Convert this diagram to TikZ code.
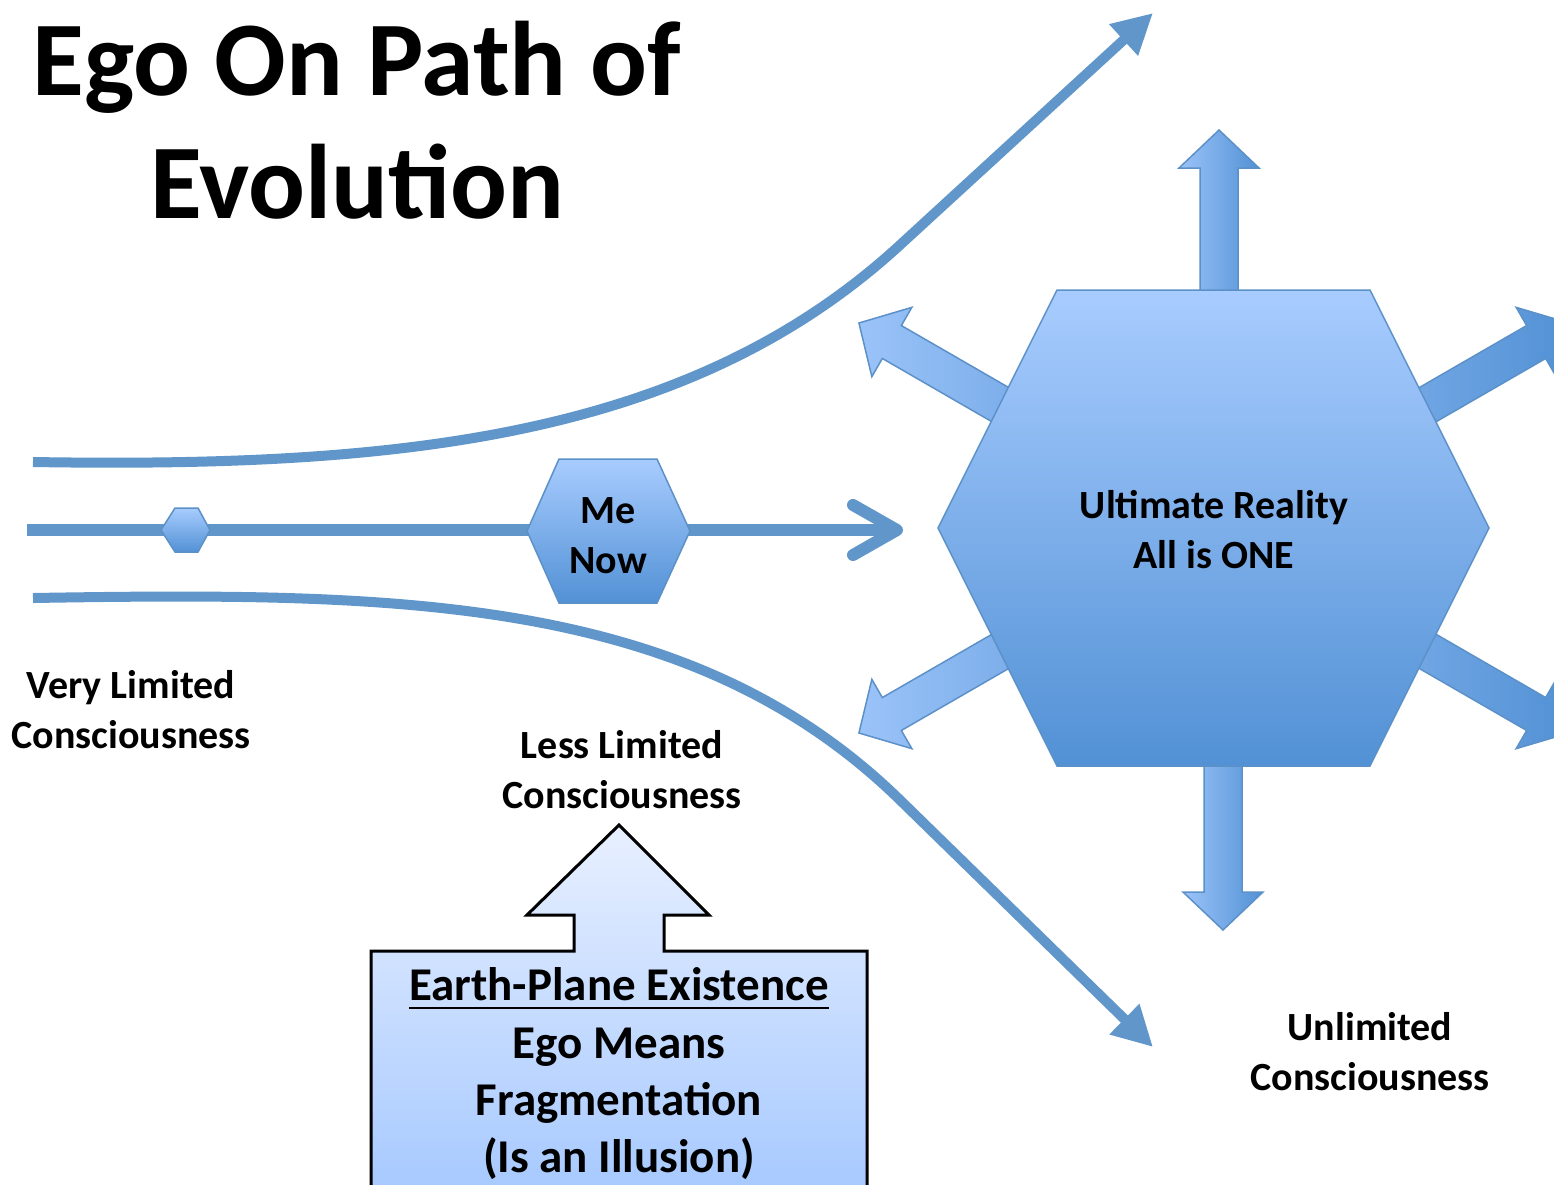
\documentclass[tikz,border=0pt]{standalone}
\usepackage{fontspec}
\setmainfont{Carlito}
\usetikzlibrary{arrows.meta}
\definecolor{lineblue}{RGB}{96,150,201}
\definecolor{hexlight}{RGB}{168,204,255}
\definecolor{hexdark}{RGB}{82,145,213}
\definecolor{hexborder}{RGB}{92,145,200}
\definecolor{boxlight}{RGB}{232,240,255}
\definecolor{boxdark}{RGB}{165,200,255}
\newcommand\BlkArrow[3]{%
  \begin{scope}[shift={(1214+#3,528)},rotate=#1]
    \path[blockarrow] (-19,0) -- (-19,-#2+38) -- (-40,-#2+38) -- (0,-#2)
      -- (40,-#2+38) -- (19,-#2+38) -- (19,0) -- cycle;
  \end{scope}}
\begin{document}
\begin{tikzpicture}[x=1pt,y=-1pt,
  curve/.style={draw=lineblue,line width=10pt},
  hexshape/.style={draw=hexborder,line width=1.5pt,top color=hexlight,bottom color=hexdark},
  blockarrow/.style={draw=hexborder,line width=1.5pt,left color=hexlight!85!hexdark,right color=hexdark},
  lbl/.style={font=\fontsize{40}{50}\selectfont\bfseries,align=center,inner sep=0pt,anchor=base},
  boxtxt/.style={font=\fontsize{47}{57}\selectfont\bfseries,align=center,inner sep=0pt,anchor=base},
  titletxt/.style={font=\fontsize{106}{123}\selectfont\bfseries,align=center,inner sep=0pt,anchor=base}]
\useasboundingbox (0,0) rectangle (1554,1184);

% title (anchor base = last line)
\node[titletxt] (title) at (357,218) {Ego On Path of\\Evolution};

% curves
\coordinate (tcA) at (33,462);
\coordinate (tcB) at (1153,13);
\coordinate (bcA) at (33,598);
\coordinate (bcB) at (1153,1047);
\coordinate (mA) at (27,530);
\coordinate (mB) at (903,530);
\draw[curve,-{Triangle[length=40pt,width=40pt]}] (tcA) .. controls (400,468) and (690,438) .. (900,245) -- (tcB);
\draw[curve,-{Triangle[length=40pt,width=40pt]}] (bcA) .. controls (400,592) and (690,595) .. (900,800) -- (bcB);
\draw[draw=lineblue,line width=12pt,-{Straight Barb[length=44pt,width=50pt,line cap=round,line join=round]}] (mA) -- (mB);

% small hexagon
\path[hexshape] (161,530) -- (175,508) -- (198,508) -- (210,530) -- (198,552) -- (175,552) -- cycle;
\coordinate (smallhex) at (185,530);

% Me Now hexagon
\path[hexshape] (527,531) -- (559,459) -- (657,459) -- (690,531) -- (657,603) -- (559,603) -- cycle;
\node[lbl] (menow) at (608,573) {Me\\Now};

% block arrows around big hexagon
\BlkArrow{0}{398}{5}
\BlkArrow{180}{402}{9}
\BlkArrow{60}{410}{0}
\BlkArrow{-60}{410}{0}
\BlkArrow{120}{410}{0}
\BlkArrow{-120}{410}{0}

% big hexagon
\path[hexshape] (938,528) -- (1057,290) -- (1370,290) -- (1489,528) -- (1370,766) -- (1057,766) -- cycle;
\node[lbl] (ultimate) at (1214,568) {Ultimate Reality\\All is ONE};

% labels
\node[lbl] (very) at (131,748) {Very Limited\\Consciousness};
\node[lbl] (less) at (622,808) {Less Limited\\Consciousness};
\node[lbl] (unlim) at (1370,1090) {Unlimited\\Consciousness};

% callout box
\path[draw=black,line width=3pt,line join=miter,top color=boxlight,bottom color=boxdark]
  (371,1200) -- (371,951) -- (574,951) -- (574,915) -- (527,915) -- (619,825)
  -- (709,915) -- (664,915) -- (664,951) -- (867,951) -- (867,1200);
\node[boxtxt] (earth) at (619,1000) {Earth-Plane Existence};
\draw[line width=2.5pt] ([yshift=-8pt]earth.base west) -- ([yshift=-8pt]earth.base east);
\node[boxtxt] (ego) at (619,1172) {Ego Means\\Fragmentation\\(Is an Illusion)};
\end{tikzpicture}
\end{document}
